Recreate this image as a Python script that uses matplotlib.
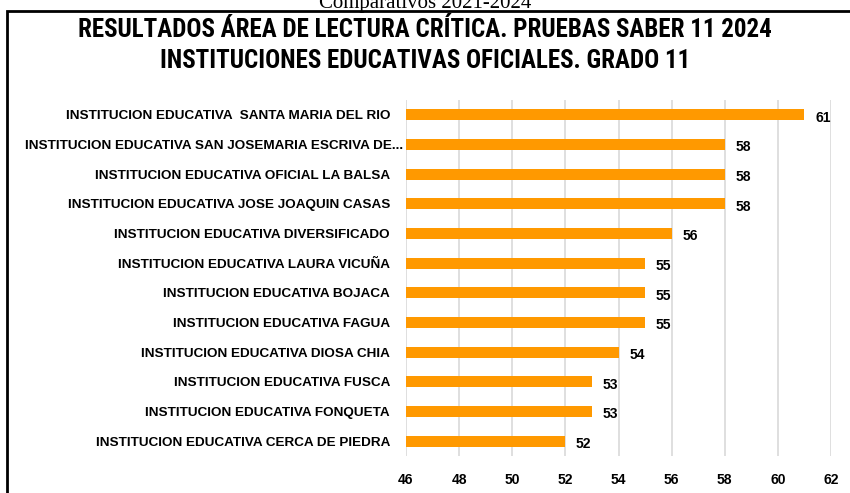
import matplotlib.pyplot as plt
from matplotlib.patches import Rectangle
from matplotlib.transforms import ScaledTranslation

escuelas = [
    "INSTITUCION EDUCATIVA  SANTA MARIA DEL RIO",
    "INSTITUCION EDUCATIVA SAN JOSEMARIA ESCRIVA DE...",
    "INSTITUCION EDUCATIVA OFICIAL LA BALSA",
    "INSTITUCION EDUCATIVA JOSE JOAQUIN CASAS",
    "INSTITUCION EDUCATIVA DIVERSIFICADO",
    "INSTITUCION EDUCATIVA LAURA VICUÑA",
    "INSTITUCION EDUCATIVA BOJACA",
    "INSTITUCION EDUCATIVA FAGUA",
    "INSTITUCION EDUCATIVA DIOSA CHIA",
    "INSTITUCION EDUCATIVA FUSCA",
    "INSTITUCION EDUCATIVA FONQUETA",
    "INSTITUCION EDUCATIVA CERCA DE PIEDRA",
]
puntajes = [61, 58, 58, 58, 56, 55, 55, 55, 54, 53, 53, 52]
xticks = [46, 48, 50, 52, 54, 56, 58, 60, 62]

titulo_font = ["Roboto Condensed", "Liberation Sans Narrow", "Roboto"]

fig = plt.figure(figsize=(8.5, 4.93), dpi=100)
ax = fig.add_axes([406/850, 1 - 456/493, 425/850, 356/493])

pos = list(range(len(escuelas)))[::-1]
ax.barh(pos, [p - 46 for p in puntajes], left=46, height=0.38,
        color="#FF9900", zorder=3)
for y, p in zip(pos, puntajes):
    ax.text(p + 0.4, y - 0.1, str(p), va="center", ha="left",
            fontsize=10, fontweight="bold", family="Liberation Sans")

ax.set_xlim(46, 62)
ax.set_ylim(-0.5, len(escuelas) - 0.5)
ax.set_xticks(xticks)
ax.set_xticklabels([str(t) for t in xticks], fontsize=10, fontweight="bold",
                   family="Liberation Sans")
ax.set_yticks(pos)
ax.set_yticklabels(escuelas, fontsize=9.7, fontweight="bold",
                   family="Liberation Sans")
ax.tick_params(length=0, pad=11.5, axis="y")
ax.tick_params(length=0, pad=12, axis="x")
ax.grid(axis="x", color="#D9D9D9", linewidth=1.2, zorder=0)
for s in ax.spines.values():
    s.set_visible(False)

# la etiqueta recortada queda un poco mas a la derecha
lbl = ax.get_yticklabels()[1]
lbl.set_transform(lbl.get_transform() + ScaledTranslation(0.13, 0, fig.dpi_scale_trans))

# titulo
fig.text(0.5, 1 - 30/493, "RESULTADOS ÁREA DE LECTURA CRÍTICA. PRUEBAS SABER 11 2024",
         ha="center", va="center", fontsize=18, fontweight="bold",
         family=titulo_font)
fig.text(0.5, 1 - 61/493, "INSTITUCIONES EDUCATIVAS OFICIALES. GRADO 11",
         ha="center", va="center", fontsize=18, fontweight="bold",
         family=titulo_font)
fig.text(0.5, 1 - 8/493, "Comparativos 2021-2024", ha="center", va="baseline",
         fontsize=15, family="Liberation Serif")

# marco
fig.patches.append(Rectangle((7/850, -0.1), 1.0, 1 - 11/493 + 0.1,
                             transform=fig.transFigure, fill=False,
                             edgecolor="black", linewidth=2))

fig.savefig("out.png", dpi=100)
